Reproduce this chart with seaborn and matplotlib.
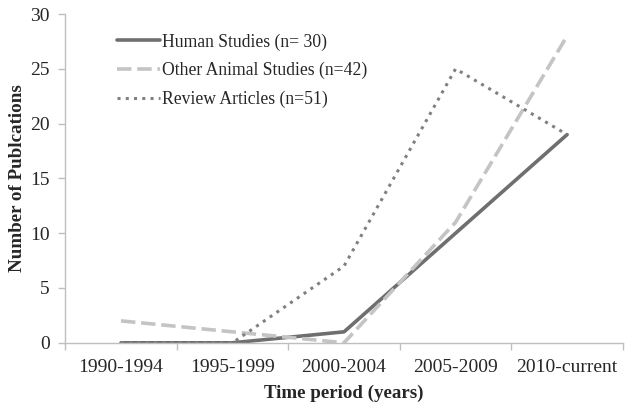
import numpy as np
import pandas as pd
import matplotlib
matplotlib.use("Agg")
import matplotlib.pyplot as plt
import seaborn as sns
from matplotlib.ticker import FixedLocator, NullFormatter

# data
periods = ["1990-1994", "1995-1999", "2000-2004", "2005-2009", "2010-current"]
human = [0, 0, 1, 10, 19]
animal = [2, 1, 0, 11, 28]
review = [0, 0, 7, 25, 19]
labels = ["Human Studies (n= 30)", "Other Animal Studies (n=42)", "Review Articles (n=51)"]

sns.set_theme(style="white")
plt.rcParams["font.family"] = ["Liberation Serif", "DejaVu Serif"]

fig, ax = plt.subplots(figsize=(6.33, 4.13), dpi=100)
fig.subplots_adjust(left=0.103, right=0.984, top=0.966, bottom=0.17)

series = [
    (human, labels[0], "#6f6f6f", "-", 2.6),
    (animal, labels[1], "#c4c4c4", (0, (4, 1.6)), 2.6),
    (review, labels[2], "#808080", (0, (1, 1.7)), 2.2),
]
x = np.arange(len(periods))
for vals, lab, col, ls, lw in series:
    sns.lineplot(x=x, y=vals, ax=ax, color=col, linestyle=ls, linewidth=lw, label=lab)

ax.set_xlim(-0.5, len(periods) - 0.5)
ax.set_ylim(0, 30)
ax.set_yticks(range(0, 31, 5))
ax.set_xticks(x)
ax.set_xticklabels(periods)
ax.xaxis.set_minor_locator(FixedLocator(np.arange(-0.5, len(periods), 1.0)))
ax.xaxis.set_minor_formatter(NullFormatter())
ax.tick_params(axis="x", which="major", length=0, labelsize=14, pad=12)
ax.tick_params(axis="x", which="minor", length=5, width=1, color="#bfbfbf", direction="out", bottom=True)
ax.tick_params(axis="y", length=5, width=1, color="#bfbfbf", direction="out", labelsize=14, left=True, pad=6)

for s in ["top", "right"]:
    ax.spines[s].set_visible(False)
for s in ["left", "bottom"]:
    ax.spines[s].set_color("#bfbfbf")
    ax.spines[s].set_linewidth(1)

ax.set_xlabel("Time period (years)", fontsize=13.6, fontweight="bold", labelpad=6)
ax.set_ylabel("Number of Publcations", fontsize=13.7, fontweight="bold", labelpad=3)

ax.legend(loc="upper left", bbox_to_anchor=(0.065, 0.99), frameon=False, fontsize=12.7,
          handlelength=2.4, handletextpad=0.15, labelspacing=0.65)

fig.savefig("out.png", dpi=100)
